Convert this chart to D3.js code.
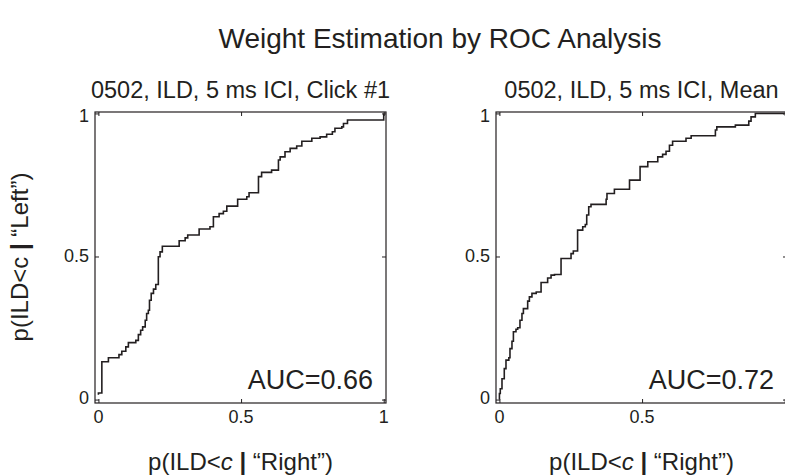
<!DOCTYPE html>
<html>
<head>
<meta charset="utf-8">
<script src="https://cdn.jsdelivr.net/npm/d3@7"></script>
<style>
  body { margin: 0; background: #fff; }
  text { font-family: "Liberation Sans", Arial, sans-serif; fill: #231f20; }
</style>
</head>
<body>
<svg id="canvas"></svg>
<script>
var w = 785;
var h = 476;

// ROC step points (false alarm rate, hit rate)
var clickX = [0, 0, 0.012, 0.035, 0.072, 0.082, 0.096, 0.105, 0.131, 0.140, 0.148, 0.155, 0.164, 0.169, 0.175, 0.179,
  0.185, 0.193, 0.201, 0.210, 0.216, 0.224, 0.283, 0.304, 0.313, 0.353, 0.391, 0.403, 0.423, 0.438, 0.450, 0.488,
  0.520, 0.528, 0.561, 0.572, 0.607, 0.631, 0.637, 0.654, 0.672, 0.695, 0.713, 0.748, 0.777, 0.800, 0.820, 0.829,
  0.853, 0.859, 0.873, 1.0]
var clickY = [0.017, 0.023, 0.132, 0.146, 0.157, 0.169, 0.184, 0.199, 0.207, 0.227, 0.242, 0.254, 0.277, 0.301, 0.312, 0.347,
  0.371, 0.386, 0.402, 0.499, 0.516, 0.536, 0.555, 0.565, 0.575, 0.596, 0.604, 0.639, 0.650, 0.658, 0.676, 0.700,
  0.709, 0.723, 0.779, 0.794, 0.802, 0.837, 0.848, 0.866, 0.878, 0.886, 0.903, 0.913, 0.918, 0.927, 0.936, 0.948,
  0.953, 0.965, 0.977, 1.0]

var meanX = [0, 0, 0.003, 0.009, 0.017, 0.023, 0.033, 0.037, 0.044, 0.049, 0.058, 0.064, 0.072, 0.079, 0.084, 0.099,
  0.105, 0.114, 0.129, 0.146, 0.169, 0.181, 0.193, 0.216, 0.251, 0.259, 0.274, 0.292, 0.301, 0.306, 0.313, 0.321,
  0.374, 0.377, 0.403, 0.456, 0.493, 0.520, 0.555, 0.572, 0.584, 0.596, 0.607, 0.654, 0.672, 0.757, 0.762, 0.827,
  0.874, 0.882, 0.897, 1.0]
var meanY = [0, 0.021, 0.038, 0.073, 0.108, 0.138, 0.146, 0.178, 0.204, 0.237, 0.246, 0.251, 0.277, 0.301, 0.318, 0.344,
  0.359, 0.371, 0.376, 0.409, 0.425, 0.435, 0.437, 0.493, 0.510, 0.519, 0.592, 0.604, 0.612, 0.645, 0.674, 0.682,
  0.700, 0.720, 0.735, 0.767, 0.814, 0.831, 0.848, 0.857, 0.868, 0.889, 0.903, 0.913, 0.922, 0.942, 0.953, 0.959,
  0.973, 0.988, 1.0, 1.0]

var panelTitles = ['0502, ILD, 5 ms ICI, Click #1', '0502, ILD, 5 ms ICI, Mean']
var aucLabels = ['AUC=0.66', 'AUC=0.72']
var tickVals = [0, 0.5, 1]
var tickLabels = ['0', '0.5', '1']

// the right panel runs off the edge of the figure, its "1" x label is not shown
var panels = [
  {left: 95, xs: clickX, ys: clickY, title: panelTitles[0], auc: aucLabels[0], xTicks: tickVals},
  {left: 496, xs: meanX, ys: meanY, title: panelTitles[1], auc: aucLabels[1], xTicks: [0, 0.5]}
]
var plotTop = 112, pw = 291, ph = 291

var svg = d3.select('#canvas')
  .attr('width', w)
  .attr('height', h)
  .attr('viewBox', [0, 0, w, h])

svg.append('text')
  .attr('x', 440).attr('y', 48)
  .attr('text-anchor', 'middle')
  .style('font-size', '28px')
  .text('Weight Estimation by ROC Analysis')

function addLabel(t, which){
  t.append('tspan').text('p(ILD<')
  var c = t.append('tspan').text('c')
  if (which == 'x') c.style('font-style', 'italic')
  t.append('tspan').text(' ')
  t.append('tspan').style('font-weight', 'bold').text('|')
  t.append('tspan').text(which == 'x' ? ' \u201cRight\u201d)' : ' \u201cLeft\u201d)')
}

panels.forEach(function(p){
  var x = d3.scaleLinear().domain([-0.012, 1.008]).range([p.left, p.left + pw])
  var y = d3.scaleLinear().domain([-0.012, 1.005]).range([plotTop + ph, plotTop])
  var g = svg.append('g')

  // box
  g.append('rect')
    .attr('x', p.left).attr('y', plotTop)
    .attr('width', pw).attr('height', ph)
    .style('fill', 'none').style('stroke', '#231f20').style('stroke-width', 1.2)

  // inward ticks, all four sides
  g.append('g').attr('transform', 'translate(0,' + (plotTop + ph) + ')')
    .call(d3.axisBottom(x).tickValues(tickVals).tickSize(-4).tickFormat(''))
  g.append('g').attr('transform', 'translate(0,' + plotTop + ')')
    .call(d3.axisTop(x).tickValues(tickVals).tickSize(-4).tickFormat(''))
  g.append('g').attr('transform', 'translate(' + p.left + ',0)')
    .call(d3.axisLeft(y).tickValues(tickVals).tickSize(-4).tickFormat(''))
  g.append('g').attr('transform', 'translate(' + (p.left + pw) + ',0)')
    .call(d3.axisRight(y).tickValues(tickVals).tickSize(-4).tickFormat(''))
  g.selectAll('.domain').remove()
  g.selectAll('.tick line').style('stroke', '#231f20')

  // tick labels
  g.selectAll('.xl').data(p.xTicks).enter().append('text')
    .attr('x', d => x(d)).attr('y', plotTop + ph + 20)
    .attr('text-anchor', 'middle').style('font-size', '18px')
    .text((d, i) => tickLabels[i])
  g.selectAll('.yl').data(tickVals).enter().append('text')
    .attr('x', p.left - 6).attr('y', (d, i) => y(d) + 6 + [-2, 0, 3][i])
    .attr('text-anchor', 'end').style('font-size', '18px')
    .text((d, i) => tickLabels[i])

  // curve
  var pts = p.xs.map((d, i) => [d, p.ys[i]])
  g.append('path')
    .datum(pts)
    .attr('d', d3.line().x(d => x(d[0])).y(d => y(d[1])).curve(d3.curveStepAfter))
    .style('fill', 'none').style('stroke', '#231f20').style('stroke-width', 1.6)

  g.append('text')
    .attr('x', p.left + pw / 2).attr('y', plotTop - 14)
    .attr('text-anchor', 'middle').style('font-size', '23.5px')
    .text(p.title)

  g.append('text')
    .attr('x', p.left + 278).attr('y', plotTop + 277)
    .attr('text-anchor', 'end').style('font-size', '27px')
    .text(p.auc)

  var xl = g.append('text')
    .attr('x', p.left + pw / 2).attr('y', 470)
    .attr('text-anchor', 'middle').style('font-size', '24px')
  addLabel(xl, 'x')
})

var yl = svg.append('text')
  .attr('transform', 'translate(28,257) rotate(-90)')
  .attr('text-anchor', 'middle').style('font-size', '24px')
addLabel(yl, 'y')
</script>
</body>
</html>
